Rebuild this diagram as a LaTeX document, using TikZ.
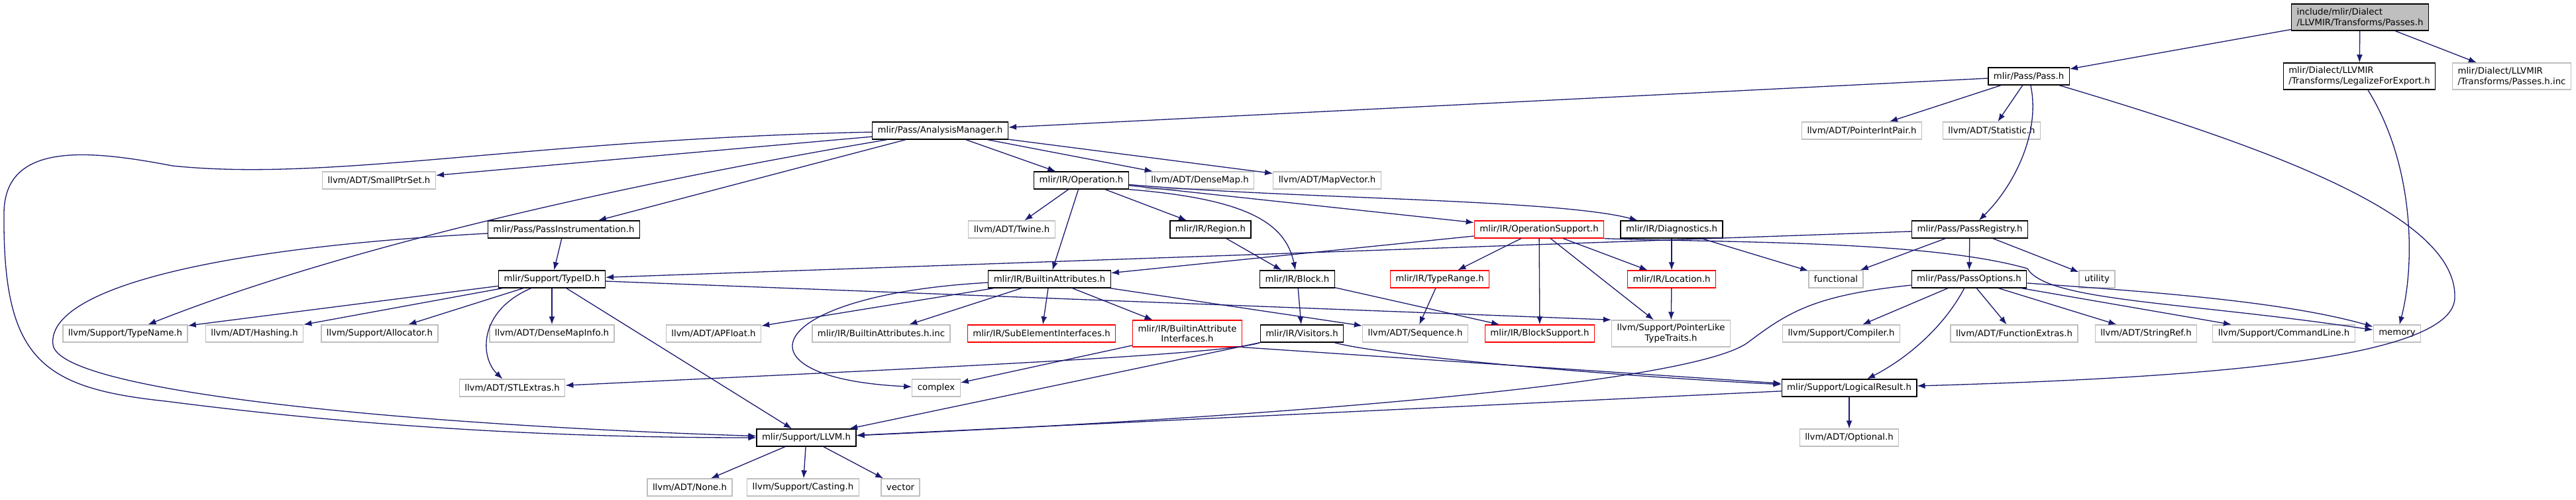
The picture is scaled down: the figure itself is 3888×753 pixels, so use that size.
\documentclass[tikz,border=0pt]{standalone}
\usepackage{fontspec}
\setmainfont{DejaVu Sans}
\usepackage{tikz}
\usetikzlibrary{arrows.meta}

\definecolor{edgeblue}{HTML}{191970}
\definecolor{extgray}{HTML}{BFBFBF}

\begin{document}
\begin{tikzpicture}[
    x=1pt, y=-1pt,
    file/.style={draw=black, fill=white, line width=1.3pt, rectangle, minimum height=26pt, inner xsep=8pt, inner ysep=3pt, font=\fontsize{13.3}{15.5}\selectfont},
    file_ext/.style={file, draw=extgray},
    file_trunc/.style={file, draw=red},
    file_root/.style={file, fill=extgray, align=left, minimum height=40pt},
    twoline/.style={minimum height=40pt},
    arrow/.style={-{Latex[length=12pt,width=9pt]}, line width=1.3pt, draw=edgeblue}
]
    \fill[white] (0,0) rectangle (3888,753);
    \useasboundingbox (0,0) rectangle (3888,753);

    % Top: the file and what it includes
    \node [file_root] (root) at (3562,26) {include/mlir/Dialect\\/LLVMIR/Transforms/Passes.h};
    \node [file] (pass) at (3062,115) {mlir/Pass/Pass.h};
    \node [file, twoline, align=left] (legal) at (3561,115) {mlir/Dialect/LLVMIR\\/Transforms/LegalizeForExport.h};
    \node [file_ext, twoline, align=left] (passinc) at (3791,115) {mlir/Dialect/LLVMIR\\/Transforms/Passes.h.inc};

    % Pass level
    \node [file] (analysis) at (1419,197) {mlir/Pass/AnalysisManager.h};
    \node [file_ext] (ptrint) at (2810,197) {llvm/ADT/PointerIntPair.h};
    \node [file_ext] (statistic) at (3006,197) {llvm/ADT/Statistic.h};

    \node [file_ext] (smallptr) at (572,272) {llvm/ADT/SmallPtrSet.h};
    \node [file] (operation) at (1632,272) {mlir/IR/Operation.h};
    \node [file_ext] (densemap) at (1811,272) {llvm/ADT/DenseMap.h};
    \node [file_ext] (mapvector) at (2003,272) {llvm/ADT/MapVector.h};

    % IR headers
    \node [file] (passinstr) at (851,346) {mlir/Pass/PassInstrumentation.h};
    \node [file_ext] (twine) at (1527,346) {llvm/ADT/Twine.h};
    \node [file] (region) at (1827,346) {mlir/IR/Region.h};
    \node [file_trunc] (opsupport) at (2323,346) {mlir/IR/OperationSupport.h};
    \node [file] (diagnostics) at (2523,346) {mlir/IR/Diagnostics.h};
    \node [file] (passregistry) at (2973,346) {mlir/Pass/PassRegistry.h};

    \node [file] (typeid) at (833,421) {mlir/Support/TypeID.h};
    \node [file] (builtinattr) at (1584,421) {mlir/IR/BuiltinAttributes.h};
    \node [file] (block) at (1958,421) {mlir/IR/Block.h};
    \node [file_trunc] (typerange) at (2173,421) {mlir/IR/TypeRange.h};
    \node [file_trunc] (location) at (2523,421) {mlir/IR/Location.h};
    \node [file_ext] (functional) at (2771,421) {functional};
    \node [file] (passoptions) at (2972,421) {mlir/Pass/PassOptions.h};
    \node [file_ext] (utility) at (3165,421) {utility};

    % Leaf row
    \node [file_ext] (typename) at (189,503) {llvm/Support/TypeName.h};
    \node [file_ext] (hashing) at (384,503) {llvm/ADT/Hashing.h};
    \node [file_ext] (allocator) at (573,503) {llvm/Support/Allocator.h};
    \node [file_ext] (densemapinfo) at (833,503) {llvm/ADT/DenseMapInfo.h};
    \node [file_ext] (apfloat) at (1077,503) {llvm/ADT/APFloat.h};
    \node [file_ext] (builtininc) at (1330,503) {mlir/IR/BuiltinAttributes.h.inc};
    \node [file_trunc] (subelement) at (1572,503) {mlir/IR/SubElementInterfaces.h};
    \node [file_trunc, twoline, align=center] (attrinterfaces) at (1792,503) {mlir/IR/BuiltinAttribute\\Interfaces.h};
    \node [file] (visitors) at (1965,503) {mlir/IR/Visitors.h};
    \node [file_ext] (sequence) at (2136,503) {llvm/ADT/Sequence.h};
    \node [file_trunc] (blocksupport) at (2324,503) {mlir/IR/BlockSupport.h};
    \node [file_ext, twoline, align=center] (pointerlike) at (2522,503) {llvm/Support/PointerLike\\TypeTraits.h};
    \node [file_ext] (compiler) at (2779,503) {llvm/Support/Compiler.h};
    \node [file_ext] (funcextras) at (3040,503) {llvm/ADT/FunctionExtras.h};
    \node [file_ext] (stringref) at (3239,503) {llvm/ADT/StringRef.h};
    \node [file_ext] (commandline) at (3447,503) {llvm/Support/CommandLine.h};
    \node [file_ext] (memory) at (3618,503) {memory};

    \node [file_ext] (stlextras) at (773,585) {llvm/ADT/STLExtras.h};
    \node [file_ext] (complex) at (1413,585) {complex};
    \node [file] (logical) at (2791,585) {mlir/Support/LogicalResult.h};

    \node [file] (llvm) at (1217,660) {mlir/Support/LLVM.h};
    \node [file_ext] (optional) at (2791,660) {llvm/ADT/Optional.h};

    \node [file_ext] (none) at (1041,735) {llvm/ADT/None.h};
    \node [file_ext] (casting) at (1212,735) {llvm/Support/Casting.h};
    \node [file_ext] (vector) at (1359,735) {vector};

    % Connections from the top
    \draw [arrow] (root) -- (pass);
    \draw [arrow] (root) -- (legal);
    \draw [arrow] (root) -- (passinc);
    \draw [arrow] (legal) .. controls (3645,250) and (3645,400) .. (memory);

    \draw [arrow] (pass) -- (analysis);
    \draw [arrow] (pass) -- (ptrint);
    \draw [arrow] (pass) -- (statistic);
    \draw [arrow] (pass) .. controls (3080,200) and (3040,280) .. (passregistry);
    \draw [arrow] (pass) .. controls (3450,230) and (3710,330) .. (3705,450) .. controls (3700,545) and (3300,570) .. (logical);

    % AnalysisManager
    \draw [arrow] (analysis) -- (smallptr);
    \draw [arrow] (analysis) -- (operation);
    \draw [arrow] (analysis) -- (densemap);
    \draw [arrow] (analysis) -- (mapvector);
    \draw [arrow] (analysis) -- (passinstr);
    \draw [arrow] (analysis) .. controls (900,285) and (500,380) .. (typename);
    \draw [arrow] (analysis) .. controls (800,210) and (500,275) .. (260,250) .. controls (130,225) and (8,215) .. (6,320) .. controls (4,540) and (60,585) .. (250,605) .. controls (600,650) and (900,660) .. (llvm);

    % Operation
    \draw [arrow] (operation) -- (twine);
    \draw [arrow] (operation) -- (builtinattr);
    \draw [arrow] (operation) -- (region);
    \draw [arrow] (operation.south east) .. controls (1880,300) and (1940,335) .. (block);
    \draw [arrow] (operation) -- (opsupport);
    \draw [arrow] (operation) .. controls (1950,300) and (2350,300) .. (diagnostics);

    \draw [arrow] (passinstr) -- (typeid);
    \draw [arrow] (passinstr) .. controls (300,375) and (70,440) .. (80,520) .. controls (90,590) and (600,640) .. (llvm);

    % TypeID
    \draw [arrow] (typeid) -- (typename);
    \draw [arrow] (typeid) -- (hashing);
    \draw [arrow] (typeid) -- (allocator);
    \draw [arrow] (typeid) -- (densemapinfo);
    \draw [arrow] (typeid) .. controls (720,470) and (725,540) .. (stlextras);
    \draw [arrow] (typeid) -- (llvm);
    \draw [arrow] (typeid) -- (pointerlike.north west);

    % OperationSupport, Diagnostics, PassRegistry
    \draw [arrow] (opsupport) -- (builtinattr);
    \draw [arrow] (opsupport) -- (typerange);
    \draw [arrow] (opsupport) -- (blocksupport);
    \draw [arrow] (opsupport) -- (pointerlike);
    \draw [arrow] (opsupport) -- (location);
    \draw [arrow] (opsupport.south east) .. controls (2600,366) and (2910,362) .. (3060,405) .. controls (3090,455) and (3300,455) .. (memory);

    \draw [arrow] (diagnostics) -- (location);
    \draw [arrow] (diagnostics) -- (functional);

    \draw [arrow] (passregistry) -- (typeid);
    \draw [arrow] (passregistry) -- (functional);
    \draw [arrow] (passregistry) -- (passoptions);
    \draw [arrow] (passregistry) -- (utility);

    \draw [arrow] (region) -- (block);
    \draw [arrow] (block) -- (visitors);
    \draw [arrow] (block) -- (blocksupport);
    \draw [arrow] (typerange) -- (sequence);
    \draw [arrow] (location) -- (pointerlike);

    % BuiltinAttributes
    \draw [arrow] (builtinattr) -- (apfloat);
    \draw [arrow] (builtinattr) -- (builtininc);
    \draw [arrow] (builtinattr) -- (subelement);
    \draw [arrow] (builtinattr) -- (attrinterfaces);
    \draw [arrow] (builtinattr) -- (sequence);
    \draw [arrow] (builtinattr) .. controls (1150,445) and (1100,570) .. (complex);

    \draw [arrow] (attrinterfaces) -- (complex);
    \draw [arrow] (attrinterfaces.south east) -- (logical);

    % Visitors
    \draw [arrow] (visitors.south west) .. controls (1850,535) and (1400,555) .. (stlextras);
    \draw [arrow] (visitors.south west) -- (llvm);
    \draw [arrow] (visitors) .. controls (2080,535) and (2400,565) .. (logical);

    % PassOptions
    \draw [arrow] (passoptions) .. controls (2740,445) and (2700,470) .. (2640,515) .. controls (2560,580) and (1900,630) .. (llvm);
    \draw [arrow] (passoptions) .. controls (2930,500) and (2870,545) .. (logical);
    \draw [arrow] (passoptions) -- (compiler);
    \draw [arrow] (passoptions) -- (funcextras);
    \draw [arrow] (passoptions) -- (stringref);
    \draw [arrow] (passoptions) -- (commandline);
    \draw [arrow] (passoptions) .. controls (3250,440) and (3450,455) .. (memory);

    % Bottom
    \draw [arrow] (logical) -- (llvm);
    \draw [arrow] (logical) -- (optional);
    \draw [arrow] (llvm) -- (none);
    \draw [arrow] (llvm) -- (casting);
    \draw [arrow] (llvm) -- (vector);

\end{tikzpicture}
\end{document}
